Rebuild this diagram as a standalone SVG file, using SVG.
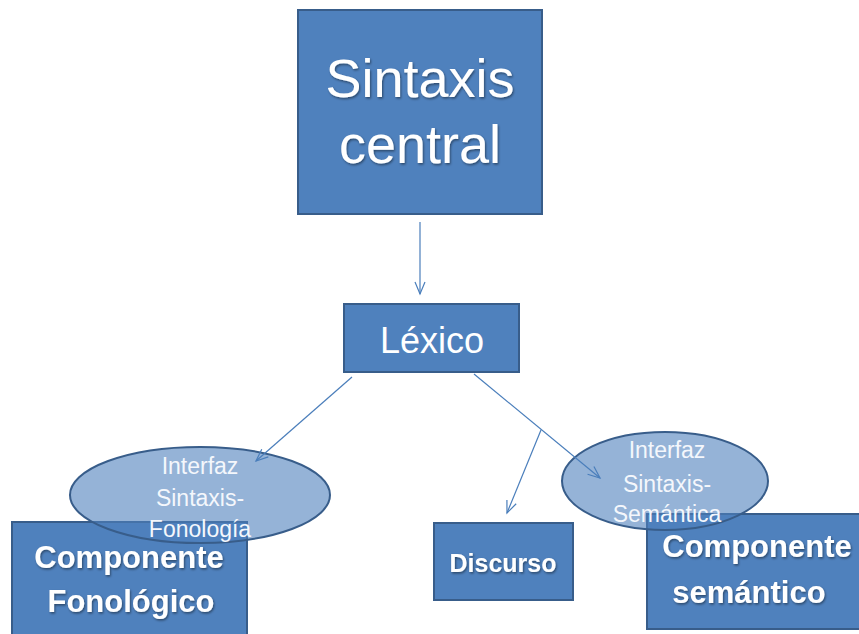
<svg xmlns="http://www.w3.org/2000/svg" width="859" height="634" viewBox="0 0 859 634">
<defs>
<style>
.box{fill:#4f81bd;stroke:#385d8a;stroke-width:2}
.ell{fill:#4f81bd;fill-opacity:0.6;stroke:#385d8a;stroke-width:2}
.t{font-family:"Liberation Sans",Arial,sans-serif;fill:#ffffff;text-anchor:middle}
.b{font-weight:bold}
.sh{filter:url(#shadow)}
.et{font-family:"Liberation Sans",Arial,sans-serif;fill:#f4f7fc;text-anchor:middle;font-size:23px}
.con{stroke:#4a7ebb;stroke-width:1.2;fill:none}
</style>
<filter id="shadow" x="-10%" y="-20%" width="120%" height="140%">
<feDropShadow dx="1" dy="1.5" stdDeviation="1" flood-color="#000000" flood-opacity="0.45"/>
</filter>
<marker id="arr" markerUnits="userSpaceOnUse" markerWidth="16" markerHeight="14" refX="13" refY="6" orient="auto">
<path d="M1,1 L13,6 L1,11" fill="none" stroke="#4a7ebb" stroke-width="1.2"/>
</marker>
</defs>
<rect width="859" height="634" fill="#ffffff"/>
<g id="sintaxis-central">
<rect class="box" x="298" y="10" width="244" height="204"/>
<text class="t sh" x="420" y="97" font-size="54">Sintaxis</text>
<text class="t sh" x="420" y="163" font-size="54">central</text>
</g>
<g id="lexico">
<rect class="box" x="344" y="304" width="175" height="68"/>
<text class="t" x="432" y="353" font-size="36">Léxico</text>
</g>
<g id="componente-fonologico">
<rect class="box" x="12" y="522" width="235" height="120"/>
<text class="t b sh" x="129" y="568" font-size="31">Componente</text>
<text class="t b sh" x="131" y="612" font-size="31">Fonológico</text>
</g>
<g id="discurso">
<rect class="box" x="434" y="523" width="139" height="77"/>
<text class="t b sh" x="503" y="572" font-size="25">Discurso</text>
</g>
<g id="componente-semantico">
<rect class="box" x="647" y="514" width="220" height="115"/>
<text class="t b sh" x="757" y="557" font-size="31">Componente</text>
<text class="t b sh" x="749" y="603" font-size="31">semántico</text>
</g>
<g id="interfaz-fonologia">
<ellipse class="ell" cx="200" cy="495" rx="130" ry="48"/>
<text class="et" x="200" y="474">Interfaz</text>
<text class="et" x="200" y="506">Sintaxis-</text>
<text class="et" x="200" y="537">Fonología</text>
</g>
<g id="interfaz-semantica">
<ellipse class="ell" cx="665" cy="481" rx="103" ry="49"/>
<text class="et" x="667" y="458">Interfaz</text>
<text class="et" x="667" y="492">Sintaxis-</text>
<text class="et" x="667" y="522">Semántica</text>
</g>
<g id="connectors">
<line class="con" x1="420" y1="222" x2="420" y2="294" marker-end="url(#arr)"/>
<line class="con" x1="352" y1="377" x2="256" y2="461" marker-end="url(#arr)"/>
<line class="con" x1="474" y1="374" x2="600" y2="478" marker-end="url(#arr)"/>
<line class="con" x1="541" y1="430" x2="507" y2="513" marker-end="url(#arr)"/>
</g>
</svg>
